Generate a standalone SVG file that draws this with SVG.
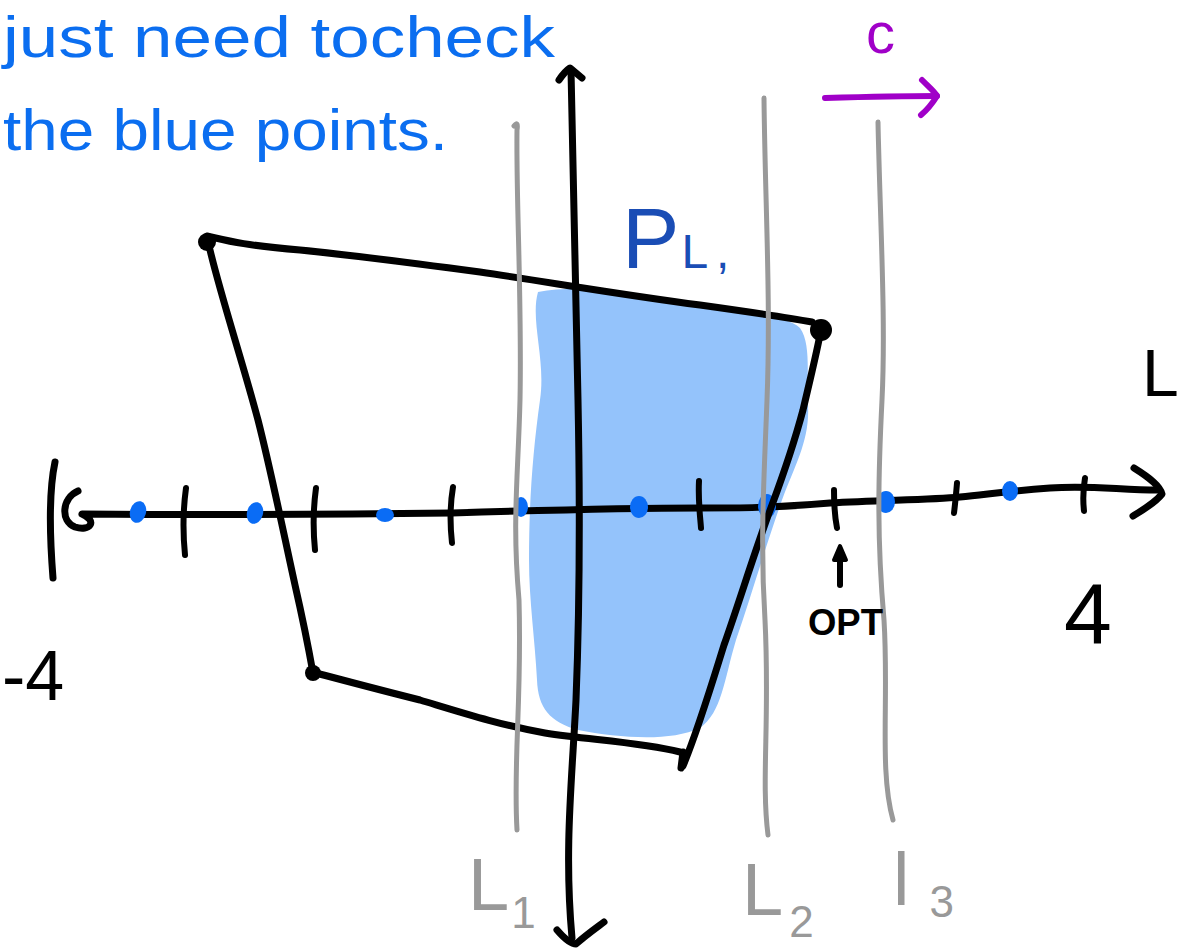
<svg xmlns="http://www.w3.org/2000/svg" width="1195" height="950" viewBox="0 0 1195 950">
<style>
.ink{fill:none;stroke:#000;stroke-width:7;stroke-linecap:round;stroke-linejoin:round}
.gray{fill:none;stroke:#999;stroke-width:5;stroke-linecap:round;stroke-linejoin:round}
.tick{fill:none;stroke:#000;stroke-width:6;stroke-linecap:round}
.dot{fill:#0a6cf5}
.note{font-family:"Liberation Sans",Arial,sans-serif;fill:#0b6ef0}
.lbl{font-family:"Liberation Sans",Arial,sans-serif}
</style>
<rect width="1195" height="950" fill="#fff"/>
<g id="note">
<text class="note" x="3" y="57" font-size="58" textLength="552" lengthAdjust="spacingAndGlyphs">just need tocheck</text>
<text class="note" x="3" y="150" font-size="58" textLength="445" lengthAdjust="spacingAndGlyphs">the blue points.</text>
</g>
<g id="feasible-fill">
<path d="M538,292 C580,284 640,292 700,305 C740,312 785,314 800,328 C812,345 806,380 808,405 C810,440 795,465 782,500 C766,545 750,600 736,640 C724,680 722,712 700,728 C670,742 620,738 578,730 C550,722 538,708 537,680 C535,640 529,600 529,560 C529,500 533,450 540,400 C546,360 530,320 538,292 Z" fill="#94c3fb"/>
</g>
<g id="x-axis">
<path class="ink" d="M55,462 C48,495 50,540 53,578"/>
<path class="ink" d="M78,491 C62,498 60,521 75,527 C90,532 98,521 82,514 C200,515 300,515 452,513 C550,510 640,508 700,508 C740,508 770,508 830,503 C880,500 930,500 960,497 C990,494 1010,491 1050,488 C1090,485 1120,490 1158,490"/>
<path class="ink" d="M1134,468 C1150,478 1160,486 1162,494 C1155,503 1143,510 1133,516"/>
<path class="tick" d="M186,488 C183,510 183,535 185,555"/>
<path class="tick" d="M316,488 C313,510 313,530 315,550"/>
<path class="tick" d="M453,487 C450,505 450,525 452,543"/>
<path class="tick" d="M699,481 C698,500 700,515 701,528"/>
<path class="tick" d="M834,490 C834,505 835,518 837,528"/>
<path class="tick" d="M957,483 C956,495 955,505 954,513"/>
<path class="tick" d="M1085,478 C1083,490 1083,502 1084,511"/>
<ellipse class="dot" cx="138" cy="512" rx="8" ry="11" transform="rotate(15 138 512)"/>
<ellipse class="dot" cx="255" cy="513" rx="8" ry="11" transform="rotate(15 255 513)"/>
<ellipse class="dot" cx="385" cy="515" rx="9" ry="7"/>
<ellipse class="dot" cx="521" cy="507" rx="7" ry="10"/>
<ellipse class="dot" cx="639" cy="507" rx="9" ry="11"/>
<ellipse class="dot" cx="767" cy="506" rx="9" ry="12"/>
<ellipse class="dot" cx="886" cy="502" rx="9" ry="11"/>
<ellipse class="dot" cx="1010" cy="491" rx="8" ry="10"/>
</g>
<g id="polygon">
<path class="ink" d="M207,236 C225,240 240,245 300,250 C360,256 420,264 480,272 C560,284 630,296 700,305 C750,312 790,318 812,322"/>
<path class="ink" d="M210,250 C222,300 242,360 258,420 C272,475 285,540 295,585 C303,620 308,645 313,673"/>
<path class="ink" d="M316,673 C350,682 380,690 420,700 C460,712 500,725 545,733 C590,740 640,742 680,752"/>
<path class="ink" d="M820,335 C815,360 810,380 803,410 C795,440 785,470 772,505 C755,550 740,600 724,645 C710,690 698,730 683,766"/>
<path class="ink" d="M683,752 L681,768" stroke-width="9"/>
<circle cx="207" cy="242" r="9"/>
<circle cx="821" cy="330" r="11"/>
<circle cx="313" cy="673" r="8"/>
</g>
<g id="y-axis">
<path class="ink" d="M571,70 C573,200 576,300 578,400 C580,500 580,600 576,700 C572,780 564,850 572,938"/>
<path class="ink" d="M559,80 C563,74 567,70 570,68 C575,72 578,75 582,78"/>
<path class="ink" d="M557,930 C563,937 570,944 576,944 C586,935 596,928 604,922"/>
</g>
<g id="lines">
<path class="gray" d="M514,126 C517,122 518,124 517,130 C516,200 522,300 520,400 C518,480 512,520 519,600 C522,700 513,760 517,830"/>
<path class="gray" d="M764,98 C765,200 771,300 767,400 C764,480 760,540 765,620 C770,720 761,780 768,835"/>
<path class="gray" d="M878,122 C880,220 886,320 882,400 C878,480 877,540 884,620 C889,700 879,770 893,820"/>
</g>
<g id="labels">
<text class="lbl" x="622" y="268" font-size="86" fill="#1a4db5">P<tspan font-size="48" dx="2">L</tspan><tspan font-size="48" dx="8">,</tspan></text>
<text class="lbl" x="866" y="53" font-size="58" fill="#a000c8">c</text>
<path d="M825,98 C860,97 900,96 937,96" fill="none" stroke="#a000c8" stroke-width="6" stroke-linecap="round"/>
<path d="M922,80 C930,88 935,92 937,96 C932,104 927,110 921,115" fill="none" stroke="#a000c8" stroke-width="6" stroke-linecap="round" stroke-linejoin="round"/>
<text class="lbl" x="1142" y="396" font-size="66">L</text>
<text class="lbl" x="1064" y="643" font-size="86">4</text>
<text class="lbl" x="2" y="700" font-size="70">-4</text>
<path d="M840,585 L840,553" stroke="#000" stroke-width="6" stroke-linecap="round"/>
<path d="M834,560 L840,546 L846,560 Z" fill="#000" stroke="#000" stroke-width="4" stroke-linejoin="round"/>
<text class="lbl" x="808" y="635" font-size="36" font-weight="bold" textLength="75" lengthAdjust="spacingAndGlyphs">OPT</text>
<text class="lbl" x="468" y="910" font-size="74" fill="#999">L<tspan font-size="44" dx="2" dy="18">1</tspan></text>
<text class="lbl" x="742" y="915" font-size="74" fill="#999">L<tspan font-size="44" dx="6" dy="22">2</tspan></text>
<text class="lbl" x="893" y="905" font-size="74" fill="#999">l<tspan font-size="44" dx="20" dy="12">3</tspan></text>
</g>
</svg>
